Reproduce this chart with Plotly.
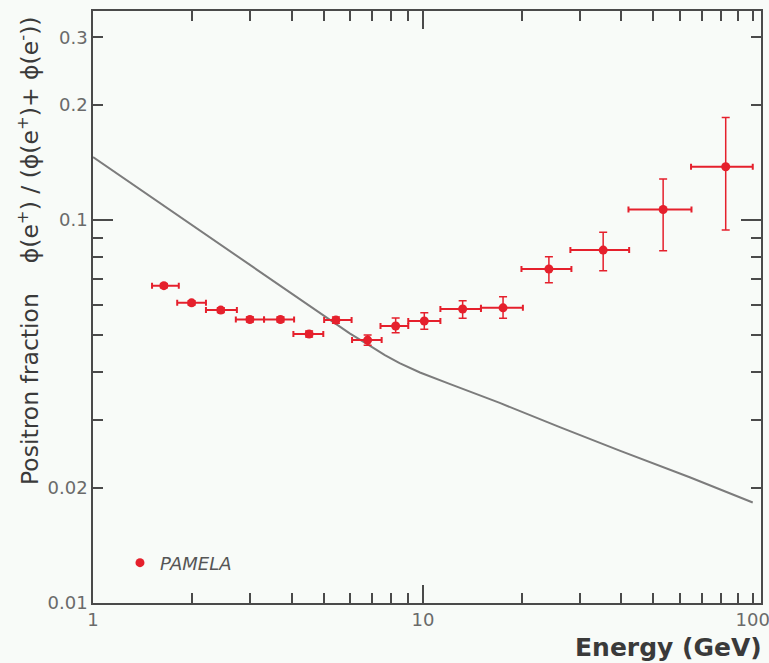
import plotly.graph_objects as go

# PAMELA positron fraction data
energy = [1.64, 1.99, 2.44, 2.99, 3.70, 4.52, 5.45, 6.80, 8.27, 10.1, 13.2, 17.5, 24.1, 35.2, 53.5, 82.8]
e_low = [1.51, 1.80, 2.20, 2.71, 3.30, 4.05, 5.02, 6.10, 7.44, 9.03, 11.3, 15.0, 19.9, 28.0, 42.0, 65.0]
e_high = [1.82, 2.20, 2.73, 3.30, 4.07, 4.99, 6.08, 7.50, 9.03, 11.3, 15.0, 20.1, 28.2, 42.2, 65.2, 100.0]
fraction = [0.0674, 0.0608, 0.0582, 0.0550, 0.0550, 0.0504, 0.0548, 0.0486, 0.0529, 0.0545,
            0.0586, 0.0590, 0.0745, 0.0835, 0.1066, 0.1378]
err_up = [0.0008, 0.0008, 0.0008, 0.0008, 0.0008, 0.0009, 0.0010, 0.0015, 0.0026, 0.0028,
          0.0030, 0.0041, 0.0057, 0.0094, 0.0214, 0.0476]
err_dn = [0.0008, 0.0008, 0.0008, 0.0008, 0.0008, 0.0009, 0.0010, 0.0015, 0.0021, 0.0026,
          0.0032, 0.0036, 0.0059, 0.0098, 0.0234, 0.0436]

# secondary-production model curve
model_e = [1, 2.11, 4.24, 6.0, 6.9, 7.67, 8.5, 9.8, 12.1, 17.1, 26.0, 39.5, 64.4, 100]
model_f = [0.146, 0.0939, 0.0622, 0.0506, 0.0470, 0.0444, 0.0423, 0.0400, 0.0373, 0.0333,
           0.0288, 0.0250, 0.0213, 0.0183]

x_major = [1, 10, 100]
x_minor = [2, 3, 4, 5, 6, 7, 8, 9, 20, 30, 40, 50, 60, 70, 80, 90]
y_major = [0.01, 0.02, 0.1, 0.2, 0.3]
y_major_text = ["0.01", "0.02", "0.1", "0.2", "0.3"]
y_minor = [0.03, 0.04, 0.05, 0.06, 0.07, 0.08, 0.09]

RED = "#e5202c"
AXIS = "#4a4a4a"
FONT = "DejaVu Sans"
XR = [0, 2.025]
YR = [-2, -0.454]
PW = 668  # plot width in px

xm = [h - c for h, c in zip(e_high, energy)]
xn = [c - l for c, l in zip(energy, e_low)]

fig = go.Figure()
fig.add_trace(go.Scatter(
    x=model_e, y=model_f, mode="lines", line=dict(color="#7c7c7c", width=2),
    showlegend=False, hoverinfo="skip"))
fig.add_trace(go.Scatter(
    x=energy, y=fraction, mode="markers", name="PAMELA",
    marker=dict(color=RED, size=9),
    error_x=dict(type="data", symmetric=False, array=xm, arrayminus=xn,
                 color=RED, thickness=2, width=3),
    error_y=dict(type="data", symmetric=False, array=err_up, arrayminus=err_dn,
                 color=RED, thickness=1.5, width=4)))

common = dict(showgrid=False, zeroline=False, showline=True, linecolor=AXIS, linewidth=1.5,
              ticks="inside", tickcolor=AXIS, tickwidth=1.5, mirror="ticks", automargin=False,
              ticklabeloverflow="allow")

fig.update_layout(
    width=769, height=663, autosize=False,
    margin=dict(l=93, r=8, t=11, b=60, pad=0),
    paper_bgcolor="#f8fbf8", plot_bgcolor="#f8fbf8",
    font=dict(family=FONT, color="#6a6a6a", size=18),
    xaxis=dict(type="log", range=XR, tickvals=x_major, ticktext=["1", "10", "100"],
               ticklen=10, minor=dict(tickvals=x_minor, ticklen=10, ticks="inside",
                                      tickcolor=AXIS, tickwidth=1.5),
               **common),
    yaxis=dict(type="log", range=YR, tickvals=y_major, ticktext=y_major_text,
               ticklen=10, minor=dict(tickvals=y_minor, ticklen=10, ticks="inside",
                                      tickcolor=AXIS, tickwidth=1.5),
               **common),
    xaxis2=dict(type="log", range=XR, overlaying="x", tickvals=[10], ticklen=18,
                showticklabels=False, showgrid=False, zeroline=False, showline=False,
                ticks="inside", tickcolor=AXIS, tickwidth=1.5, mirror="ticks", anchor="y",
                automargin=False),
    yaxis2=dict(type="log", range=YR, overlaying="y", tickvals=[0.1], ticklen=20,
                showticklabels=False, showgrid=False, zeroline=False, showline=False,
                ticks="inside", tickcolor=AXIS, tickwidth=1.5, mirror="ticks", anchor="x",
                automargin=False),
    legend=dict(x=0.0404, y=0.0676, xanchor="left", yanchor="middle", bgcolor="rgba(0,0,0,0)",
                font=dict(family=FONT, size=18, color="#555555", style="italic")),
)

fig.add_trace(go.Scatter(x=[10], y=[0.1], xaxis="x2", yaxis="y2", mode="markers",
                         marker=dict(opacity=0), showlegend=False, hoverinfo="skip"))

fig.add_annotation(text="<b>Energy (GeV)</b>", xref="paper", yref="paper", x=1 + 3 / PW, y=-0.076,
                   xanchor="right", yanchor="middle", showarrow=False,
                   font=dict(family=FONT, size=25, color="#3a3a3a"))
nb = "\u00a0"
ytitle = ("Positron fraction" + nb * 4 + "\u03d5(e<sup>+</sup>) / (\u03d5(e<sup>+</sup>)+ "
          "\u03d5(e<sup>-</sup>))")
fig.add_annotation(text=ytitle, xref="paper", yref="paper", x=(29 - 93) / PW, y=(603 - 251) / 592,
                   xanchor="center", yanchor="middle", textangle=-90, showarrow=False,
                   font=dict(family=FONT, size=23.5, color="#3a3a3a"))

fig.write_html("out.html")
